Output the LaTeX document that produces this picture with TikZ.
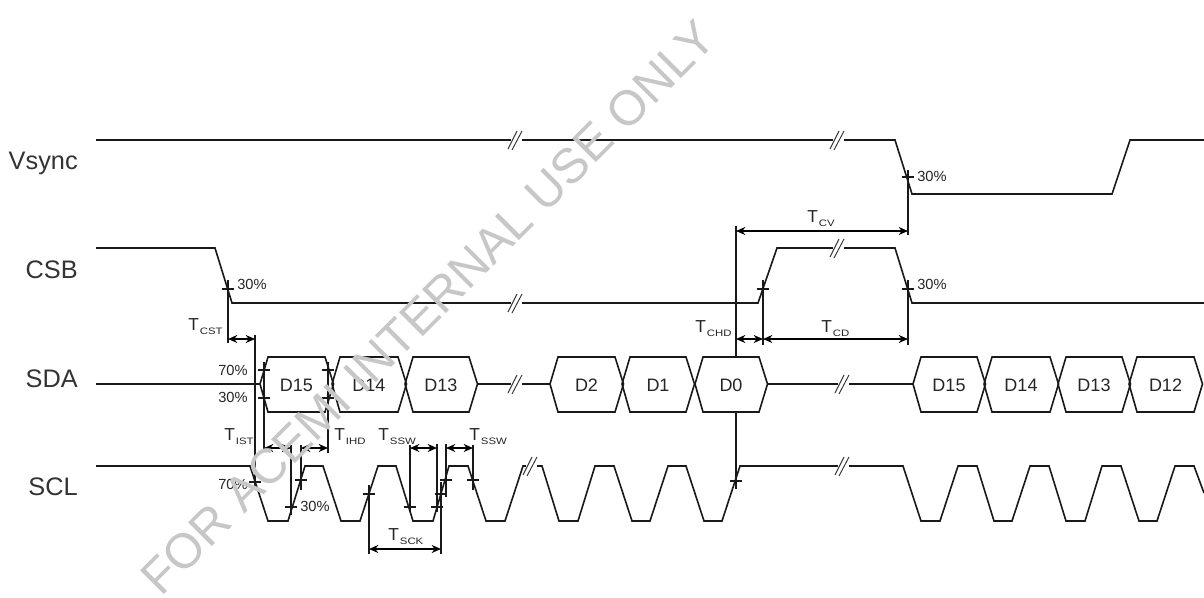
\documentclass[tikz,border=0pt]{standalone}
\usepackage{fontspec}
\setmainfont{Liberation Sans}
\usetikzlibrary{arrows.meta}
\newcommand\tsub[1]{T\kern0.8pt\raisebox{-3.4pt}{\fontsize{7}{8}\selectfont\addfontfeature{FakeStretch=1.22}#1}}
\tikzset{
  wave/.style={line width=1.2pt,black!90,line join=miter},
  guide/.style={line width=1pt,black!90},
  dim/.style={line width=1pt,black,{Stealth[length=7pt,width=6pt]}-{Stealth[length=7pt,width=6pt]}},
  slash/.style={line width=0.7pt,black!80},
  signame/.style={anchor=base east,inner sep=0pt,text=black!80,font=\fontsize{19}{21}\selectfont},
  pct/.style={anchor=base west,inner sep=0pt,text=black!85,font=\fontsize{11}{12}\selectfont},
  bit/.style={inner sep=0pt,text=black!85,font=\fontsize{13.5}{15}\selectfont},
  tlabel/.style={anchor=base west,inner sep=0pt,text=black!85,font=\fontsize{13}{14}\selectfont},
  watermark/.style={anchor=base,inner sep=0pt,text=black!22,rotate=45,font=\fontsize{36.8}{40}\selectfont}
}
\begin{document}
\begin{tikzpicture}[x=0.75pt,y=-0.75pt]
\useasboundingbox (0,0) rectangle (1204,597);
\fill[white] (0,0) rectangle (1204,597);
% waveforms
\draw[wave] (96,140) -- (895,140) -- (912,194) -- (1112,194) -- (1130,140) -- (1204,140);
\draw[wave] (96,248) -- (215,248) -- (232,303) -- (758,303) -- (777,248) -- (895,248) -- (912,303) -- (1204,303);
\draw[wave] (96,384) -- (260,384);
\draw[wave] (478,384) -- (550,384);
\draw[wave] (768,384) -- (913,384);
\foreach \l/\r/\t/\n in {268/325/D15/a,340/398/D14/b,413/469/D13/c,558/615/D2/d,630/686/D1/e,703/759/D0/f,921/977/D15/g,992/1050/D14/h,1066/1122/D13/i,1137/1194/D12/j}{
  \draw[wave] ({\l-8},384) -- (\l,357) -- (\r,357) -- ({\r+8.5},384) -- (\r,412) -- (\l,412) -- cycle;
  \node[bit] (bit\n) at ({(\l+\r)/2},385) {\t};
}
\draw[wave] (96,466) -- (250,466) -- (268,521) -- (288,521) -- (305,466) -- (323,466) -- (341,521) -- (360,521) -- (378,466) -- (396,466) -- (413,521) -- (433,521) -- (449,466) -- (468,466) -- (486,521) -- (505,521) -- (523,466) -- (542,466) -- (559,521) -- (578,521) -- (595,466) -- (614,466) -- (632,521) -- (650,521) -- (668,466) -- (686,466) -- (704,521) -- (722,521) -- (740,466) -- (903,466) -- (921,521) -- (940,521) -- (958,466) -- (977,466) -- (994,521) -- (1012,521) -- (1030,466) -- (1049,466) -- (1066,521) -- (1085,521) -- (1102,466) -- (1121,466) -- (1139,521) -- (1157,521) -- (1175,466) -- (1194,466) -- (1204,493);
% break marks
\foreach \x/\y in {515/140,837/140,515/303,837/248,515/384,842/384,530/466,842/466}{
  \fill[white] ({\x-4},{\y-2}) rectangle ({\x+7},{\y+2});
  \draw[slash] ({\x-7},{\y+9}) -- ({\x+2},{\y-9});
  \draw[slash] ({\x-3},{\y+10}) -- ({\x+7},{\y-9});
}
% guides
\draw[guide] (228,280) -- (228,343);
\draw[guide] (255,335) -- (255,490);
\draw[guide] (264,362) -- (264,452);
\draw[guide] (328,362) -- (328,453);
\draw[guide] (291,445) -- (291,515);
\draw[guide] (301,445) -- (301,490);
\draw[guide] (410,445) -- (410,512);
\draw[guide] (437,444) -- (437,512);
\draw[guide] (369,485) -- (369,554);
\draw[guide] (441,482) -- (441,554);
\draw[guide] (446,444) -- (446,497);
\draw[guide] (473,445) -- (473,490);
\draw[guide] (736,226) -- (736,357);
\draw[guide] (736,412) -- (736,489);
\draw[guide] (908,170) -- (908,235);
\draw[guide] (763,280) -- (763,345);
\draw[guide] (908,280) -- (908,345);
% threshold ticks
\foreach \x/\y in {228/289,264/370,264/398,328/370,328/398,255/482,291/507,301/480,369/494,410/507,437/507,441/494,446/480,473/480,736/481,763/289,908/177,908/289}{
  \draw[guide] ({\x-6},\y) -- ({\x+6},\y);
}
% dimensions
\draw[dim] (228,339) -- (255,339);
\draw[dim] (264,448) -- (291,448);
\draw[dim] (301,448) -- (328,448);
\draw[dim] (410,448) -- (437,448);
\draw[dim] (446,448) -- (473,448);
\draw[dim] (369,549) -- (441,549);
\draw[dim] (736,231) -- (908,231);
\draw[dim] (736,339) -- (763,339);
\draw[dim] (763,339) -- (908,339);
% signal names
\node[signame] (nv) at (78,169) {Vsync};
\node[signame] (nc) at (78,278) {CSB};
\node[signame] (nd) at (78,387) {SDA};
\node[signame] (ns) at (78,495) {SCL};
% percents
\node[pct] (p1) at (237,289) {30\%};
\node[pct] (p2) at (917,181) {30\%};
\node[pct] (p3) at (917,289) {30\%};
\node[pct] (p4) at (218,375) {70\%};
\node[pct] (p5) at (218,402) {30\%};
\node[pct] (p6) at (218,489) {70\%};
\node[pct] (p7) at (300,511) {30\%};
% timing labels
\node[tlabel] (t1) at (188,330) {\tsub{CST}};
\node[tlabel] (t2) at (224,440) {\tsub{IST}};
\node[tlabel] (t3) at (334,440) {\tsub{IHD}};
\node[tlabel] (t4) at (378,440) {\tsub{SSW}};
\node[tlabel] (t5) at (469,440) {\tsub{SSW}};
\node[tlabel] (t6) at (388,540) {\tsub{SCK}};
\node[tlabel] (t7) at (807,222) {\tsub{CV}};
\node[tlabel] (t8) at (821,332) {\tsub{CD}};
\node[tlabel] (t9) at (695,332) {\tsub{CHD}};
% watermark
\node[watermark] (wm) at (440,319.5) {FOR ACEMI INTERNAL USE ONLY};
\end{tikzpicture}
\end{document}
